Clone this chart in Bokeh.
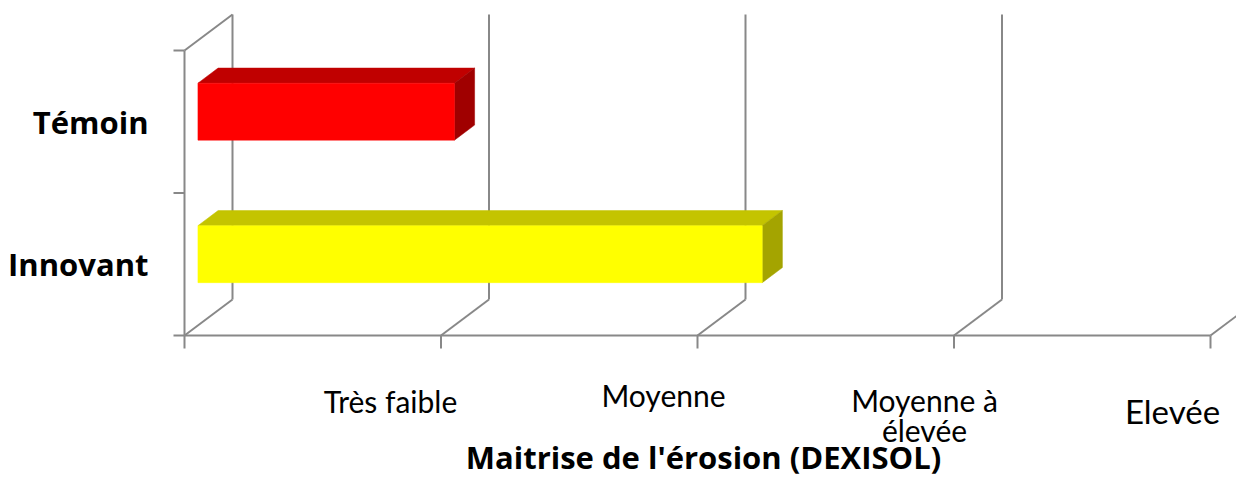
from bokeh.plotting import figure
from bokeh.models import Range1d, Label
from bokeh.embed import file_html
from bokeh.resources import INLINE

# ---- data ----
categories = ["Innovant", "Témoin"]
values = [2.2, 1.0]
axis_max = 4
tick_labels = ["Très faible", "Moyenne", "Moyenne à élevée", "Elevée"]

# ---- styles ----
front_colors = ["#FFFF00", "#FF0000"]
top_colors = ["#C4C400", "#C00000"]
side_colors = ["#A4A400", "#A00000"]
GRID = "#888888"
FONT = "Lato"
BFONT = "Open Sans"

# ---- layout geometry (pixel scale of the drawing) ----
W, H = 1236, 476
PXU_X = 256.5          # pixels per value unit
PXU_Y = 142.5          # pixels per category slot
X0 = 184               # px from figure left to value 0
Y0 = H - 335           # px from figure bottom to floor
DX = 48 / PXU_X        # depth vector (value units)
DY = 36 / PXU_Y
F0, F1 = 0.28, 0.70    # bar depth span (fraction of depth)
HALF = 0.2             # bar half thickness (category units)
TXT_SHIFT = 11         # compensation for baseline placement of labels

def px(x, y):
    """picture pixel -> data coordinates (for text placement)"""
    return (x - X0) / PXU_X, (H - (y - TXT_SHIFT) - Y0) / PXU_Y

p = figure(width=W, height=H, output_backend="svg", toolbar_location=None,
           x_range=Range1d(-X0 / PXU_X, (W - X0) / PXU_X),
           y_range=Range1d(-Y0 / PXU_Y, (H - Y0) / PXU_Y),
           x_axis_location=None, y_axis_location=None, min_border=0,
           outline_line_color=None, background_fill_color="white",
           border_fill_color="white")
p.grid.visible = False

ncat = len(categories)
ticks = list(range(axis_max + 1))

# back wall verticals and floor diagonals
xs, ys = [], []
for v in ticks:
    xs.append([v + DX, v + DX]); ys.append([DY, ncat + DY])
    xs.append([v, v + DX]); ys.append([0, DY])
# front floor line, left front vertical, left top diagonal
xs.append([0, axis_max]); ys.append([0, 0])
xs.append([0, 0]); ys.append([0, ncat])
xs.append([0, DX]); ys.append([ncat, ncat + DY])
# tick marks
tlx = 11 / PXU_X
tly = 13 / PXU_Y
for c in range(ncat + 1):
    xs.append([-tlx, 0]); ys.append([c, c])
for v in ticks:
    xs.append([v, v]); ys.append([0, -tly])
p.multi_line(xs, ys, line_color=GRID, line_width=2)

# 3D bars
fx, fy, tx, ty, sx, sy = [], [], [], [], [], []
for i, (cat, val) in enumerate(zip(categories, values)):
    c = i + 0.5
    yb, yt = c - HALF, c + HALF
    ox0, oy0 = F0 * DX, F0 * DY
    ox1, oy1 = F1 * DX, F1 * DY
    fx.append([ox0, val + ox0, val + ox0, ox0])
    fy.append([yb + oy0, yb + oy0, yt + oy0, yt + oy0])
    tx.append([ox0, val + ox0, val + ox1, ox1])
    ty.append([yt + oy0, yt + oy0, yt + oy1, yt + oy1])
    sx.append([val + ox0, val + ox1, val + ox1, val + ox0])
    sy.append([yb + oy0, yb + oy1, yt + oy1, yt + oy0])
p.patches(tx, ty, fill_color=top_colors, line_color=top_colors, line_width=0.5)
p.patches(sx, sy, fill_color=side_colors, line_color=side_colors, line_width=0.5)
p.patches(fx, fy, fill_color=front_colors, line_color=front_colors, line_width=0.5)

# category labels
for i, cat in enumerate(categories):
    lx, _ = px(148, 0)
    p.add_layout(Label(x=lx, y=i + 0.5, text=cat, text_font=BFONT,
                       text_font_style="bold", text_font_size="31px",
                       text_align="right", text_baseline="middle",
                       y_offset=0, text_color="black"))

# value-axis category labels (placed as in the original)
label_pos = [(390, 411), (663, 405), (924, 410), (1172, 421)]
label_size = ["30px", "30px", "30px", "33px"]
for lab, (lx, ly), fs in zip(tick_labels, label_pos, label_size):
    parts = ["Moyenne à", "élevée"] if lab == "Moyenne à élevée" else [lab]
    for k, part in enumerate(parts):
        x, y = px(lx, ly + 30 * k)
        p.add_layout(Label(x=x, y=y, text=part, text_font=FONT,
                           text_font_size=fs, text_align="center",
                           text_baseline="alphabetic", text_color="black"))

# axis title
x, y = px(703, 467)
p.add_layout(Label(x=x, y=y, text="Maitrise de l'érosion (DEXISOL)",
                   text_font=BFONT, text_font_style="bold", text_font_size="31px",
                   text_align="center", text_baseline="alphabetic",
                   text_color="black"))

open("out.html", "w").write(file_html(p, INLINE))
